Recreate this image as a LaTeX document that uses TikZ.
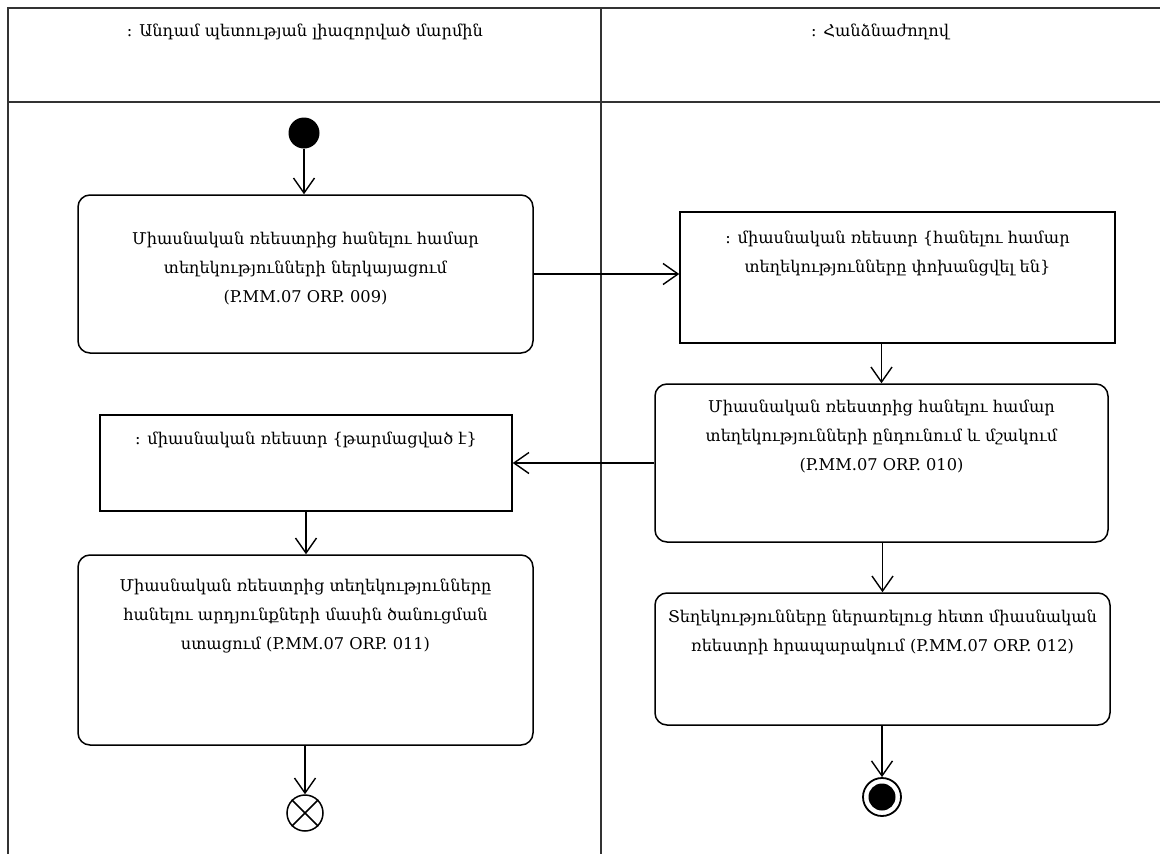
\documentclass[tikz,border=0pt]{standalone}
\usepackage{fontspec}
\setmainfont{DejaVu Serif}
\usetikzlibrary{arrows.meta}
\begin{document}
\begin{tikzpicture}[x=1pt,y=-1pt,
  frame/.style={draw=black!80,line width=2pt},
  actbox/.style={draw,line width=1.5pt,rounded corners=12pt,inner sep=0pt},
  objbox/.style={draw,line width=1.5pt,inner sep=0pt},
  txt/.style={inner sep=0pt,align=center,font=\fontsize{16.2}{29}\selectfont},
  flow/.style={line width=1.4pt,-{Straight Barb[length=15pt,width=21pt,line width=1.4pt]}}]
\useasboundingbox (0,0) rectangle (1160,854);
% swimlane frame
\draw[frame] (8,854) -- (8,8) -- (1160,8);
\draw[frame] (8,102) -- (1160,102);
\draw[frame] (601,8) -- (601,854);
\node[txt,anchor=north] (t1) at (305,24) {: Անդամ պետության լիազորված մարմին};
\node[txt,anchor=north] (t2) at (880,24) {: Հանձնաժողով};
% nodes
\node[circle,fill=black,minimum size=31pt,inner sep=0pt] (start) at (304,133) {};
\node[actbox,minimum width=455pt,minimum height=158pt] (b1) at (305.5,274) {};
\node[objbox,minimum width=435pt,minimum height=131pt] (b2) at (897.5,277.5) {};
\node[actbox,minimum width=453pt,minimum height=158pt] (b3) at (881.5,463) {};
\node[objbox,minimum width=412pt,minimum height=96pt] (b4) at (306,463) {};
\node[actbox,minimum width=455pt,minimum height=190pt] (b5) at (305.5,650) {};
\node[actbox,minimum width=455pt,minimum height=132pt] (b6) at (882.5,659) {};
\node[circle,draw,line width=1.5pt,minimum size=36pt,inner sep=0pt] (ff) at (305,813) {};
\draw[line width=1.5pt] (ff.north east) -- (ff.south west) (ff.north west) -- (ff.south east);
\node[circle,draw,line width=1.8pt,minimum size=38pt,inner sep=0pt] (fin) at (882,797) {};
\node[circle,fill=black,minimum size=27pt,inner sep=0pt] (finin) at (fin.center) {};
% texts
\node[txt,anchor=north] (x1) at ([yshift=-38pt]b1.north) {Միասնական ռեեստրից հանելու համար\\տեղեկությունների ներկայացում\\(P.MM.07 ORP. 009)};
\node[txt,anchor=north] (x2) at ([yshift=-20pt]b2.north) {: միասնական ռեեստր \{հանելու համար\\տեղեկությունները փոխանցվել են\}};
\node[txt,anchor=north] (x3) at ([yshift=-17pt]b3.north) {Միասնական ռեեստրից հանելու համար\\տեղեկությունների ընդունում  և մշակում\\(P.MM.07 ORP. 010)};
\node[txt,anchor=north] (x4) at ([yshift=-18pt]b4.north) {: միասնական ռեեստր \{թարմացված է\}};
\node[txt,anchor=north] (x5) at ([yshift=-25pt]b5.north) {Միասնական ռեեստրից տեղեկությունները\\հանելու արդյունքների մասին ծանուցման\\ստացում (P.MM.07 ORP. 011)};
\node[txt,anchor=north] (x6) at ([yshift=-18pt]b6.north) {Տեղեկությունները ներառելուց հետո միասնական\\ռեեստրի հրապարակում (P.MM.07 ORP. 012)};
% connectors
\draw[flow] (start) -- (start |- b1.north);
\draw[flow] (b1.east) -- (b1.east -| b2.west);
\draw[flow] (b3.north |- b2.south) -- (b3.north);
\draw[flow] (b3.west) -- (b4.east);
\draw[flow] (b4.south) -- (b4.south |- b5.north);
\draw[flow] (b5.south -| ff.north) -- (ff.north);
\draw[flow] (b3.south -| b6.north) -- (b6.north);
\draw[flow] (b6.south -| fin.north) -- (fin.north);
\end{tikzpicture}
\end{document}
